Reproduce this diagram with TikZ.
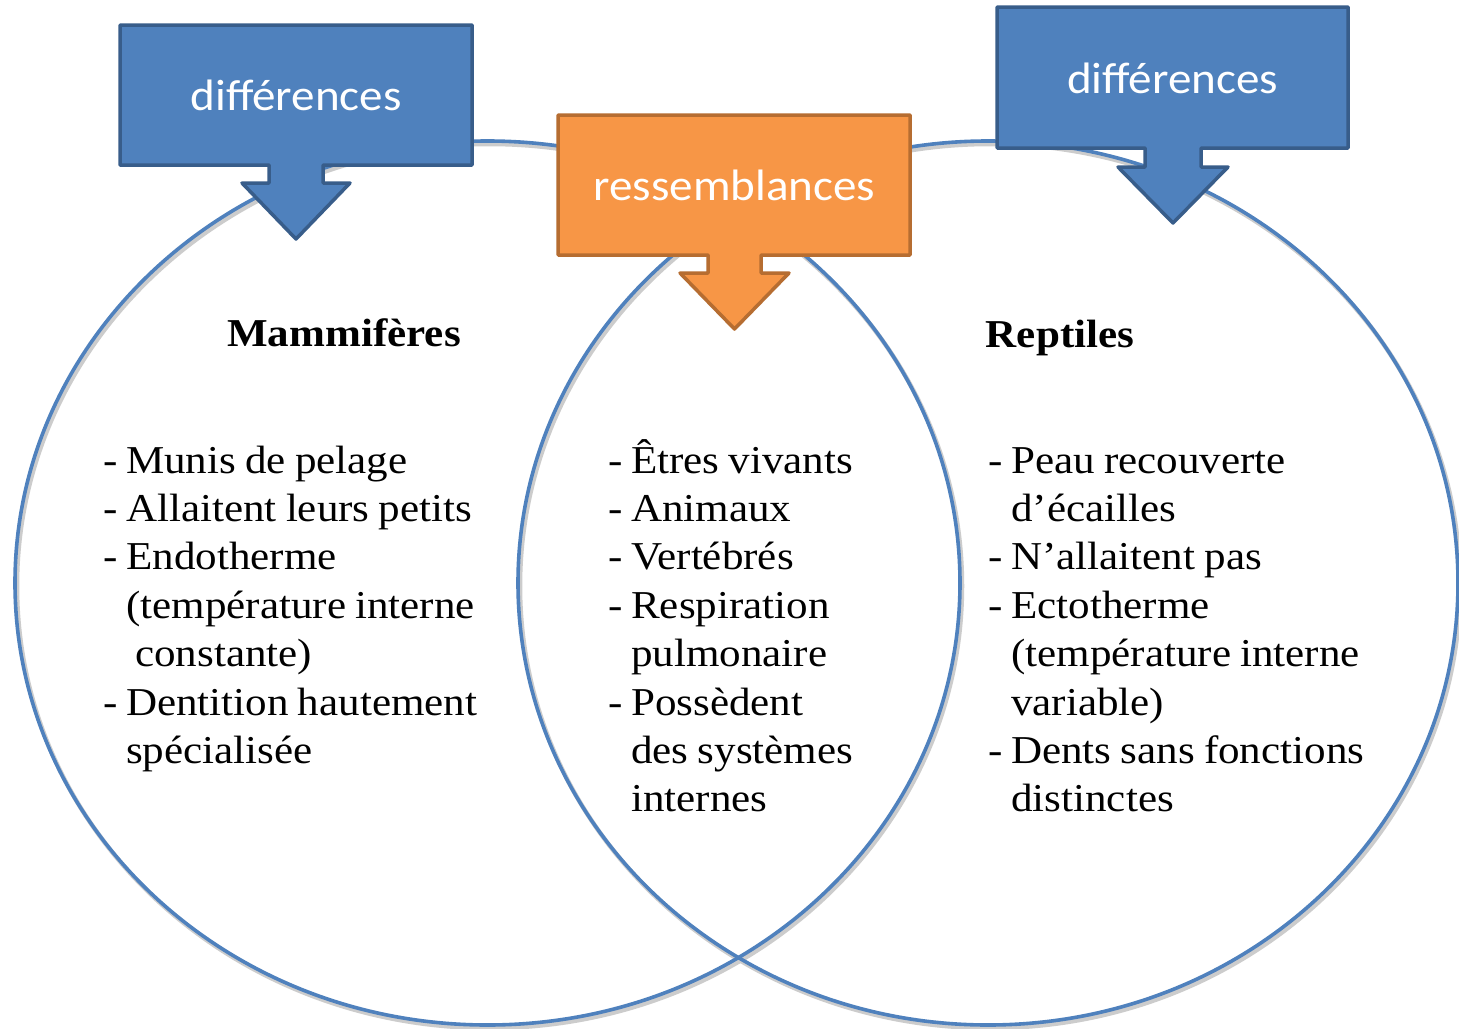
\documentclass[tikz,border=0pt]{standalone}
\usepackage{fontspec}
\setmainfont{Liberation Serif}[FakeStretch=1.09,WordSpace=0.85]
\newfontfamily\calib{Carlito}[FakeStretch=1.07]
\definecolor{bluefill}{HTML}{4F81BD}
\definecolor{blueedge}{HTML}{385D8A}
\definecolor{orfill}{HTML}{F79646}
\definecolor{oredge}{HTML}{B66D31}
\definecolor{ring}{HTML}{4F81BD}
\newcommand\dsh{\makebox[23pt][l]{-}}
\newcommand\cont{\hspace*{23pt}}
\begin{document}
\begin{tikzpicture}[x=1pt,y=-1pt,
  ringline/.style={draw=ring, line width=3.6pt},
  ringshadow/.style={draw=black!20, line width=4.5pt},
  bluecall/.style={fill=bluefill, draw=blueedge, line width=3.5pt, line join=round},
  orcall/.style={fill=orfill, draw=oredge, line width=3.5pt, line join=round},
  calltext/.style={text=white, font=\calib\fontsize{44}{50}\selectfont, inner sep=0pt, anchor=base},
  head/.style={font=\fontsize{39.5}{48.4}\selectfont\bfseries, inner sep=0pt, anchor=base},
  listtext/.style={font=\fontsize{39.5}{48.4}\selectfont, inner sep=0pt, anchor=base west}
]
\useasboundingbox[fill=white] (0,0) rectangle (1459,1028);

% circles with soft shadow
\draw[ringshadow] (489.5,586) ellipse [x radius=472.5, y radius=442];
\draw[ringshadow] (990,586) ellipse [x radius=470, y radius=442];
\draw[ringline] (487.5,583) ellipse [x radius=472.5, y radius=442];
\draw[ringline] (988,583) ellipse [x radius=470, y radius=442];

% callouts
\path[bluecall] (120,25) -- (472,25) -- (472,165) -- (323,165) -- (323,183) -- (350,183) -- (296,239) -- (242,183) -- (269,183) -- (269,165) -- (120,165) -- cycle;
\path[orcall] (558,115) -- (910,115) -- (910,255) -- (761,255) -- (761,273) -- (789,273) -- (734.5,329) -- (680,273) -- (708,273) -- (708,255) -- (558,255) -- cycle;
\path[bluecall] (997,7) -- (1348,7) -- (1348,148) -- (1201,148) -- (1201,167) -- (1228,167) -- (1173,223) -- (1118,167) -- (1145,167) -- (1145,148) -- (997,148) -- cycle;

\node[calltext] (diffL) at (296,110) {différences};
\node[calltext] (ress) at (734.5,200) {ressemblances};
\node[calltext] (diffR) at (1172.5,93) {différences};

% headings
\node[head] (mam) at (344,346) {Mammifères};
\node[head] (rep) at (1060,347) {Reptiles};

% lists
\node[listtext] (listL) at (103,473) {\begin{tabular}[t]{@{}l@{}}
\dsh Munis de pelage\\
\dsh Allaitent leurs petits\\
\dsh Endotherme\\
\cont(température interne\\
\cont\hspace*{9pt}constante)\\
\dsh Dentition hautement\\
\cont spécialisée
\end{tabular}};

\node[listtext] (listM) at (608,473) {\begin{tabular}[t]{@{}l@{}}
\dsh Êtres vivants\\
\dsh Animaux\\
\dsh Vertébrés\\
\dsh Respiration\\
\cont pulmonaire\\
\dsh Possèdent\\
\cont des systèmes\\
\cont internes
\end{tabular}};

\node[listtext] (listR) at (988,473) {\begin{tabular}[t]{@{}l@{}}
\dsh Peau recouverte\\
\cont d’écailles\\
\dsh N’allaitent pas\\
\dsh Ectotherme\\
\cont(température interne\\
\cont variable)\\
\dsh Dents sans fonctions\\
\cont distinctes
\end{tabular}};
\end{tikzpicture}
\end{document}
